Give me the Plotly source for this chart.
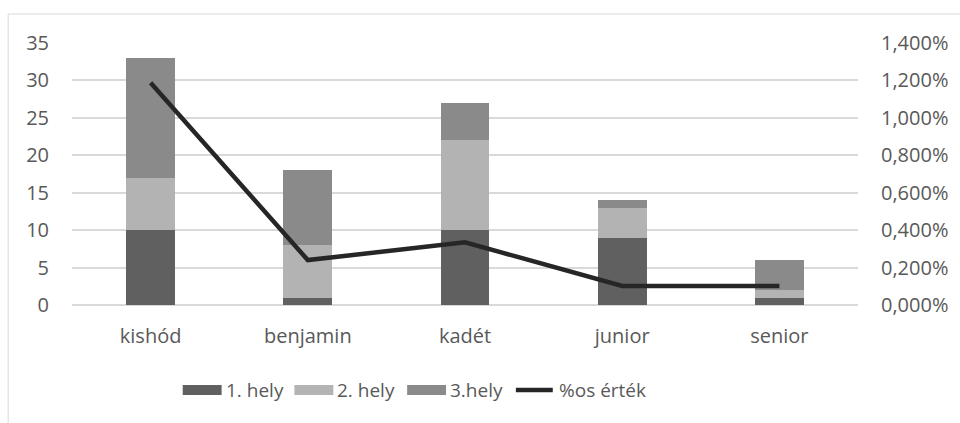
import plotly.graph_objects as go

categories = ["kishód", "benjamin", "kadét", "junior", "senior"]
hely1 = [10, 1, 10, 9, 1]
hely2 = [7, 7, 12, 4, 1]
hely3 = [16, 10, 5, 1, 4]
pct = [0.01188, 0.0024, 0.00335, 0.00102, 0.00102]

series_names = ["1. hely", "2. hely", "3.hely", "%os érték"]
colors = ["#606060", "#b3b3b3", "#8a8a8a", "#262626"]
FONT = "Open Sans"
TXT = "#595959"
FS = 20

L, R, T, B = 72, 100, 43, 118
W, H = 960, 423
PW, PH = W - L - R, H - T - B

def px(x):
    return (x - L) / PW

def py(y):
    return (T + PH - y) / PH

fig = go.Figure()
for vals, name, col in zip([hely1, hely2, hely3], series_names[:3], colors[:3]):
    fig.add_trace(go.Bar(x=categories, y=vals, name=name, marker=dict(color=col, line=dict(width=0)),
                         showlegend=False))
fig.add_trace(go.Scatter(x=categories, y=pct, name=series_names[3], yaxis="y2", mode="lines",
                         line=dict(color=colors[3], width=4.5), showlegend=False))

shapes = [
    dict(type="rect", xref="paper", yref="paper", x0=px(8), x1=px(1200), y0=py(14), y1=py(800),
         line=dict(color="#d9d9d9", width=1), fillcolor="rgba(0,0,0,0)", layer="below"),
]
annotations = []
# custom legend
leg_y = 390
legend_items = [(183, 222, "bar"), (295, 334, "bar"), (408, 447, "bar"), (515, 556, "line")]
for (x0, x1, kind), name, col in zip(legend_items, series_names, colors):
    if kind == "bar":
        shapes.append(dict(type="rect", xref="paper", yref="paper", x0=px(x0), x1=px(x1),
                           y0=py(leg_y + 5), y1=py(leg_y - 5), fillcolor=col, line=dict(width=0)))
    else:
        shapes.append(dict(type="line", xref="paper", yref="paper", x0=px(x0 + 2), x1=px(x1 - 2),
                           y0=py(leg_y), y1=py(leg_y), line=dict(color=col, width=4.5)))
    annotations.append(dict(xref="paper", yref="paper", x=px(x1 + 2), y=py(leg_y), text=name,
                            showarrow=False, xanchor="left", yanchor="middle",
                            font=dict(family=FONT, size=FS - 1, color=TXT)))

fig.update_layout(
    width=W, height=H,
    margin=dict(l=L, r=R, t=T, b=B, pad=0),
    paper_bgcolor="white", plot_bgcolor="white",
    barmode="stack", bargap=0.69,
    separators=", ",
    font=dict(family=FONT, size=FS, color=TXT),
    xaxis=dict(showgrid=False, showline=False, ticks="", ticklabelstandoff=17,
               tickfont=dict(family=FONT, size=FS, color=TXT)),
    yaxis=dict(range=[0, 35], dtick=5, showgrid=True, gridcolor="#d9d9d9", gridwidth=1.5,
               zeroline=True, zerolinecolor="#d9d9d9", zerolinewidth=1.5, showline=False,
               ticks="", ticklabelstandoff=22, tickfont=dict(family=FONT, size=FS, color=TXT)),
    yaxis2=dict(range=[0, 0.014], dtick=0.002, tickformat=".3%", overlaying="y", side="right",
                showgrid=False, zeroline=False, showline=False, ticks="", ticklabelstandoff=22,
                tickfont=dict(family=FONT, size=FS, color=TXT)),
    shapes=shapes, annotations=annotations,
)

fig.write_html("out.html", config={"displayModeBar": False},
               post_script="document.body.style.margin='0';document.body.style.overflow='hidden';")
